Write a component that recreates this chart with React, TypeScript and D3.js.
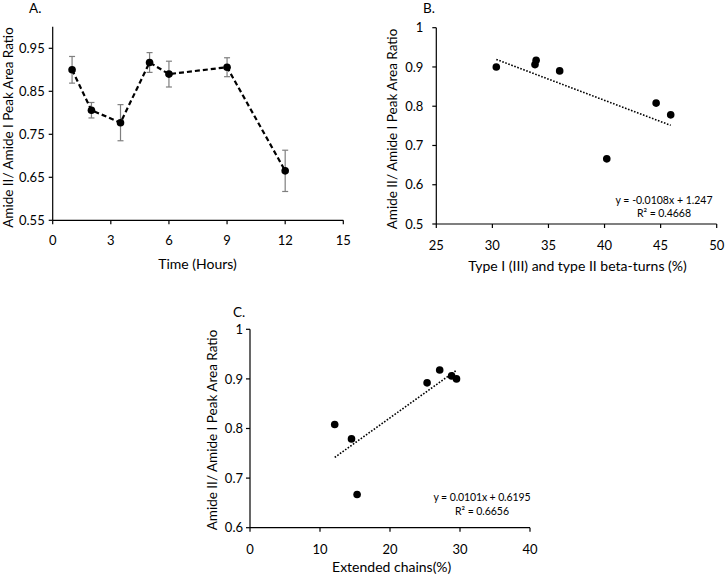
import React from "react";
import * as d3 from "d3";

// Panel A: time course
const timeHours = [1, 2, 3.5, 5, 6, 9, 12];
const ratioA = [0.9, 0.806, 0.777, 0.917, 0.89, 0.906, 0.665];
const errA = [0.031, 0.018, 0.042, 0.023, 0.03, 0.022, 0.048];
const xTicksA = [0, 3, 6, 9, 12, 15];
const yTicksA = [0.55, 0.65, 0.75, 0.85, 0.95];

// Panel B: beta-turns
const betaTurns = [30.35, 33.8, 33.9, 36.0, 40.2, 44.6, 45.9];
const ratioB = [0.9, 0.906, 0.917, 0.89, 0.666, 0.808, 0.778];
const xTicksB = [25, 30, 35, 40, 45, 50];
const yTicksB = [0.5, 0.6, 0.7, 0.8, 0.9, 1];
const slopeB = -0.0108;
const interceptB = 1.247;
const eqB = "y = -0.0108x + 1.247";
const r2B = "R² = 0.4668";

// Panel C: extended chains
const extChains = [12.1, 14.5, 15.3, 25.3, 27.1, 28.8, 29.5];
const ratioC = [0.808, 0.779, 0.667, 0.892, 0.918, 0.906, 0.9];
const xTicksC = [0, 10, 20, 30, 40];
const yTicksC = [0.6, 0.7, 0.8, 0.9, 1];
const slopeC = 0.0101;
const interceptC = 0.6195;
const eqC = "y = 0.0101x + 0.6195";
const r2C = "R² = 0.6656";

const FONT = "Lato, 'Open Sans', sans-serif";
const yTitle = "Amide II/ Amide I Peak Area Ratio";

type AxesProps = {
  x: d3.ScaleLinear<number, number>;
  y: d3.ScaleLinear<number, number>;
  xTicks: number[];
  yTicks: number[];
  yFmt: (v: number) => string;
  yLabelGap: number;
  xLabelY: number;
};

function Axes({ x, y, xTicks, yTicks, yFmt, yLabelGap, xLabelY }: AxesProps) {
  const [x0, x1] = x.range();
  const [y0, y1] = y.range();
  return (
    <g>
      <line x1={x0} x2={x0} y1={y0} y2={y1} stroke="#000" strokeWidth={1.2} />
      <line x1={x0} x2={x1} y1={y0} y2={y0} stroke="#000" strokeWidth={1.2} />
      {yTicks.map((t) => (
        <g key={"y" + t}>
          <line x1={x0 - 4} x2={x0} y1={y(t)} y2={y(t)} stroke="#000" strokeWidth={1.2} />
          <text x={x0 - yLabelGap} y={y(t)} dy="0.36em" textAnchor="end" fontSize={13} fontFamily={FONT} fill="#000">
            {yFmt(t)}
          </text>
        </g>
      ))}
      {xTicks.map((t) => (
        <g key={"x" + t}>
          <line x1={x(t)} x2={x(t)} y1={y0} y2={y0 + 4} stroke="#000" strokeWidth={1.2} />
          <text x={x(t)} y={xLabelY} textAnchor="middle" fontSize={13} fontFamily={FONT} fill="#000">
            {t}
          </text>
        </g>
      ))}
    </g>
  );
}

function YTitle({ x, y }: { x: number; y: number }) {
  return (
    <text transform={`translate(${x},${y}) rotate(-90)`} textAnchor="middle" fontSize={13.5} fontFamily={FONT} fill="#000">
      {yTitle}
    </text>
  );
}

function Equation({ cx, y, eq, r2 }: { cx: number; y: number; eq: string; r2: string }) {
  return (
    <g fontSize={10.5} fontFamily={FONT} fill="#000">
      <text x={cx - 48.5} y={y} textLength={97} lengthAdjust="spacing">{eq}</text>
      <text x={cx - 27} y={y + 13.3} textLength={54} lengthAdjust="spacing">{r2}</text>
    </g>
  );
}

export default function App() {
  // Panel A
  const xA = d3.scaleLinear().domain([0, 15]).range([52.7, 343.3]);
  const yA = d3.scaleLinear().domain([0.55, 1.0]).range([220.3, 26.8]);
  const lineA = d3
    .line<number>()
    .x((_, i) => xA(timeHours[i]))
    .y((d) => yA(d));

  // Panel B
  const xB = d3.scaleLinear().domain([25, 50]).range([436.3, 716.7]);
  const yB = d3.scaleLinear().domain([0.5, 1]).range([224, 27.7]);
  const bMin = d3.min(betaTurns) as number;
  const bMax = d3.max(betaTurns) as number;

  // Panel C
  const xC = d3.scaleLinear().domain([0, 40]).range([250, 530]);
  const yC = d3.scaleLinear().domain([0.6, 1]).range([527.7, 329.3]);
  const cMin = d3.min(extChains) as number;
  const cMax = d3.max(extChains) as number;

  const f2 = d3.format(".2f");
  const fB = (v: number) => (v === 1 ? "1" : d3.format(".1f")(v));

  return (
    <div style={{ position: "absolute", left: 0, top: 0 }}>
      <svg width={725} height={577} style={{ display: "block", background: "#fff" }}>
        <rect width={725} height={577} fill="#fff" />

        {/* Panel A */}
        <text x={29} y={13} fontSize={13.5} fontFamily={FONT} fill="#000">A.</text>
        <Axes x={xA} y={yA} xTicks={xTicksA} yTicks={yTicksA} yFmt={f2} yLabelGap={8} xLabelY={245} />
        {timeHours.map((t, i) => (
          <g key={"e" + i} stroke="#7f7f7f" strokeWidth={1.2}>
            <line x1={xA(t)} x2={xA(t)} y1={yA(ratioA[i] - errA[i])} y2={yA(ratioA[i] + errA[i])} />
            <line x1={xA(t) - 3} x2={xA(t) + 3} y1={yA(ratioA[i] - errA[i])} y2={yA(ratioA[i] - errA[i])} />
            <line x1={xA(t) - 3} x2={xA(t) + 3} y1={yA(ratioA[i] + errA[i])} y2={yA(ratioA[i] + errA[i])} />
          </g>
        ))}
        <path d={lineA(ratioA) || ""} fill="none" stroke="#000" strokeWidth={2.2} strokeDasharray="5,3" />
        {timeHours.map((t, i) => (
          <circle key={"pa" + i} cx={xA(t)} cy={yA(ratioA[i])} r={3.8} fill="#000" />
        ))}
        <text x={197.5} y={268.5} textAnchor="middle" fontSize={14} fontFamily={FONT} fill="#000">Time (Hours)</text>
        <YTitle x={13} y={127.5} />

        {/* Panel B */}
        <text x={423} y={13} fontSize={13.5} fontFamily={FONT} fill="#000">B.</text>
        <Axes x={xB} y={yB} xTicks={xTicksB} yTicks={yTicksB} yFmt={fB} yLabelGap={13} xLabelY={250} />
        <line
          x1={xB(bMin)} y1={yB(slopeB * bMin + interceptB)}
          x2={xB(bMax)} y2={yB(slopeB * bMax + interceptB)}
          stroke="#000" strokeWidth={1.6} strokeDasharray="1.6,1.6"
        />
        {betaTurns.map((b, i) => (
          <circle key={"pb" + i} cx={xB(b)} cy={yB(ratioB[i])} r={3.8} fill="#000" />
        ))}
        <Equation cx={664} y={203.5} eq={eqB} r2={r2B} />
        <text x={577.5} y={271} textAnchor="middle" fontSize={14} fontFamily={FONT} fill="#000">Type I (III) and type II beta-turns (%)</text>
        <YTitle x={397} y={129} />

        {/* Panel C */}
        <text x={233} y={316.7} fontSize={13.5} fontFamily={FONT} fill="#000">C.</text>
        <Axes x={xC} y={yC} xTicks={xTicksC} yTicks={yTicksC} yFmt={fB} yLabelGap={7} xLabelY={553.5} />
        <line
          x1={xC(cMin)} y1={yC(slopeC * cMin + interceptC)}
          x2={xC(cMax)} y2={yC(slopeC * cMax + interceptC)}
          stroke="#000" strokeWidth={1.6} strokeDasharray="1.6,1.6"
        />
        {extChains.map((c, i) => (
          <circle key={"pc" + i} cx={xC(c)} cy={yC(ratioC[i])} r={3.8} fill="#000" />
        ))}
        <Equation cx={482} y={501.2} eq={eqC} r2={r2C} />
        <text x={391.7} y={572} textAnchor="middle" fontSize={14} fontFamily={FONT} fill="#000">Extended chains(%)</text>
        <YTitle x={217} y={430} />
      </svg>
    </div>
  );
}
